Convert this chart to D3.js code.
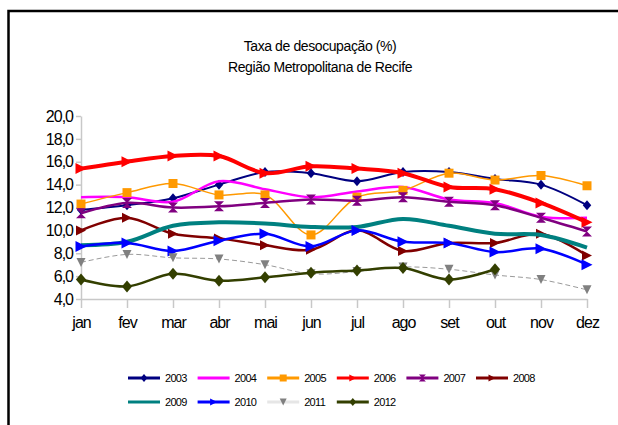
<!DOCTYPE html>
<html>
<head>
<meta charset="utf-8">
<script src="https://cdn.jsdelivr.net/npm/d3@7"></script>
<style>
  body { margin: 0; background: #fff; }
  svg { display: block; font-family: "Liberation Sans", Arial, sans-serif; }
</style>
</head>
<body>
<svg id="chart" width="618" height="425"></svg>
<script>
// months and y tick values
const months = ["jan", "fev", "mar", "abr", "mai", "jun", "jul", "ago", "set", "out", "nov", "dez"];
const yTicks = [4, 6, 8, 10, 12, 14, 16, 18, 20];
const years = ["2003", "2004", "2005", "2006", "2007", "2008", "2009", "2010", "2011", "2012"];

// values (taxa de desocupacao, %)
const v2003 = [11.8, 12.2, 12.8, 14.0, 15.1, 15.0, 14.3, 15.1, 15.1, 14.5, 14.0, 12.2];
const v2004 = [12.9, 12.9, 12.5, 14.3, 13.6, 12.9, 13.4, 13.8, 12.7, 12.4, 11.2, 11.1];
const v2005 = [12.3, 13.3, 14.1, 13.1, 13.1, 9.6, 12.9, 13.5, 15.0, 14.4, 14.8, 13.9];
const v2006 = [15.4, 16.0, 16.5, 16.5, 15.0, 15.6, 15.4, 15.0, 13.8, 13.6, 12.4, 10.7];
const v2007 = [11.5, 12.4, 12.0, 12.1, 12.4, 12.7, 12.6, 12.9, 12.5, 12.2, 11.1, 9.9];
const v2008 = [10.0, 11.1, 9.7, 9.3, 8.7, 8.3, 10.0, 8.2, 8.9, 8.9, 9.7, 7.8];
const v2009 = [8.7, 9.0, 10.4, 10.7, 10.6, 10.3, 10.3, 11.0, 10.4, 9.7, 9.6, 8.5];
const v2010 = [8.6, 8.9, 8.2, 9.1, 9.7, 8.6, 10.0, 9.0, 8.9, 8.1, 8.4, 7.0];
const v2011 = [7.2, 7.9, 7.6, 7.5, 7.0, 6.2, 6.4, 6.8, 6.6, 6.1, 5.7, 4.8];
const v2012 = [5.7, 5.1, 6.2, 5.6, 5.9, 6.3, 6.5, 6.7, 5.7, 6.6];

const values = {
  "2003": v2003, "2004": v2004, "2005": v2005, "2006": v2006, "2007": v2007,
  "2008": v2008, "2009": v2009, "2010": v2010, "2011": v2011, "2012": v2012
};

// look of each series
const look = {
  "2003": {color: "#000080", width: 2, marker: "diamond", size: 5},
  "2004": {color: "#ff00ff", width: 2.5, marker: null},
  "2005": {color: "#ff9900", width: 1.5, marker: "square", size: 4.5},
  "2006": {color: "#ff0000", width: 4, marker: "triR", size: 5.5},
  "2007": {color: "#800080", width: 2.5, marker: "hourglass", size: 5},
  "2008": {color: "#800000", width: 2.5, marker: "triR", size: 5},
  "2009": {color: "#008080", width: 4, marker: null},
  "2010": {color: "#0000ff", width: 2.5, marker: "triR", size: 5.5},
  "2011": {color: "#9a9a9a", width: 1, marker: "triD", size: 4.5, dash: "5,3", markerColor: "#808080", legendColor: "#e6e6e6"},
  "2012": {color: "#333f00", width: 2.5, marker: "diamond", size: 6}
};

function markerPath(type, s) {
  if (type === "diamond") return `M0,${-s}L${s * 0.85},0L0,${s}L${-s * 0.85},0Z`;
  if (type === "square") return `M${-s},${-s}H${s}V${s}H${-s}Z`;
  if (type === "triR") return `M${-s},${-s}L${s},0L${-s},${s}Z`;
  if (type === "triD") return `M${-s},${-s}H${s}L0,${s}Z`;
  if (type === "hourglass") return `M${-s},${-s}H${s}L${-s},${s}H${s}Z`;
  return "";
}

const svg = d3.select("#chart");

// outer frame (runs past the right and bottom edges)
svg.append("rect")
  .attr("x", 8.5).attr("y", 11)
  .attr("width", 720).attr("height", 500)
  .attr("fill", "none").attr("stroke", "#000").attr("stroke-width", 2.5);

// title
const title = svg.append("text")
  .attr("text-anchor", "middle")
  .attr("font-size", 14).attr("letter-spacing", -0.4)
  .attr("fill", "#000");
title.append("tspan").attr("x", 320).attr("y", 51).text("Taxa de desocupação (%)");
title.append("tspan").attr("x", 320).attr("y", 72).text("Região Metropolitana de Recife");

const x = d3.scalePoint().domain(months).range([81, 587]);
const y = d3.scaleLinear().domain([4, 20]).range([299, 116]);

const fmt = d => d3.format(".1f")(d).replace(".", ",");

const yAxis = svg.append("g")
  .attr("transform", "translate(81,0)")
  .call(d3.axisLeft(y).tickValues(yTicks).tickFormat(fmt).tickSize(5).tickSizeOuter(0).tickPadding(3));

const xAxis = svg.append("g")
  .attr("transform", "translate(0,299)")
  .call(d3.axisBottom(x).tickSize(9).tickSizeOuter(0).tickPadding(9));

[yAxis, xAxis].forEach(g => {
  g.select(".domain").attr("stroke", "#c8c8c8").attr("stroke-width", 1.5);
  g.selectAll(".tick line").attr("stroke", "#c8c8c8").attr("stroke-width", 1.5);
  g.selectAll(".tick text")
    .attr("fill", "#000")
    .attr("font-family", "Liberation Sans, Arial, sans-serif")
    .attr("font-size", 16).attr("letter-spacing", -1);
});

// series lines
const line = d3.line()
  .x((d, i) => x(months[i]))
  .y(d => y(d))
  .curve(d3.curveCatmullRom.alpha(0.5));

years.forEach(yr => {
  const st = look[yr];
  const vals = values[yr];
  const g = svg.append("g").attr("class", "series s" + yr);
  g.append("path")
    .attr("d", line(vals))
    .attr("fill", "none")
    .attr("stroke", st.color)
    .attr("stroke-width", st.width)
    .attr("stroke-dasharray", st.dash || null)
    .attr("stroke-linejoin", "round");
  if (st.marker) {
    g.selectAll("path.mk").data(vals).enter()
      .append("path")
      .attr("class", "mk")
      .attr("transform", (d, i) => `translate(${x(months[i])},${y(d)})`)
      .attr("d", markerPath(st.marker, st.size))
      .attr("fill", st.markerColor || st.color);
  }
});

// legend
const legendRows = [years.slice(0, 6), years.slice(6)];
legendRows.forEach((row, r) => {
  row.forEach((yr, c) => {
    const st = look[yr];
    const lx = 128 + c * 69.6;
    const ly = r === 0 ? 378 : 402;
    const g = svg.append("g").attr("transform", `translate(${lx},${ly})`);
    g.append("line")
      .attr("x1", 0).attr("x2", 32).attr("y1", 0).attr("y2", 0)
      .attr("stroke", st.legendColor || st.color).attr("stroke-width", 3);
    if (st.marker) {
      g.append("path")
        .attr("transform", "translate(16,0)")
        .attr("d", markerPath(st.marker, st.marker === "diamond" ? 4 : 3.5))
        .attr("fill", st.markerColor || st.color);
    }
    g.append("text")
      .attr("x", 37).attr("y", 4)
      .attr("font-size", 11).attr("letter-spacing", -0.7)
      .attr("fill", "#000")
      .text(yr);
  });
});
</script>
</body>
</html>
